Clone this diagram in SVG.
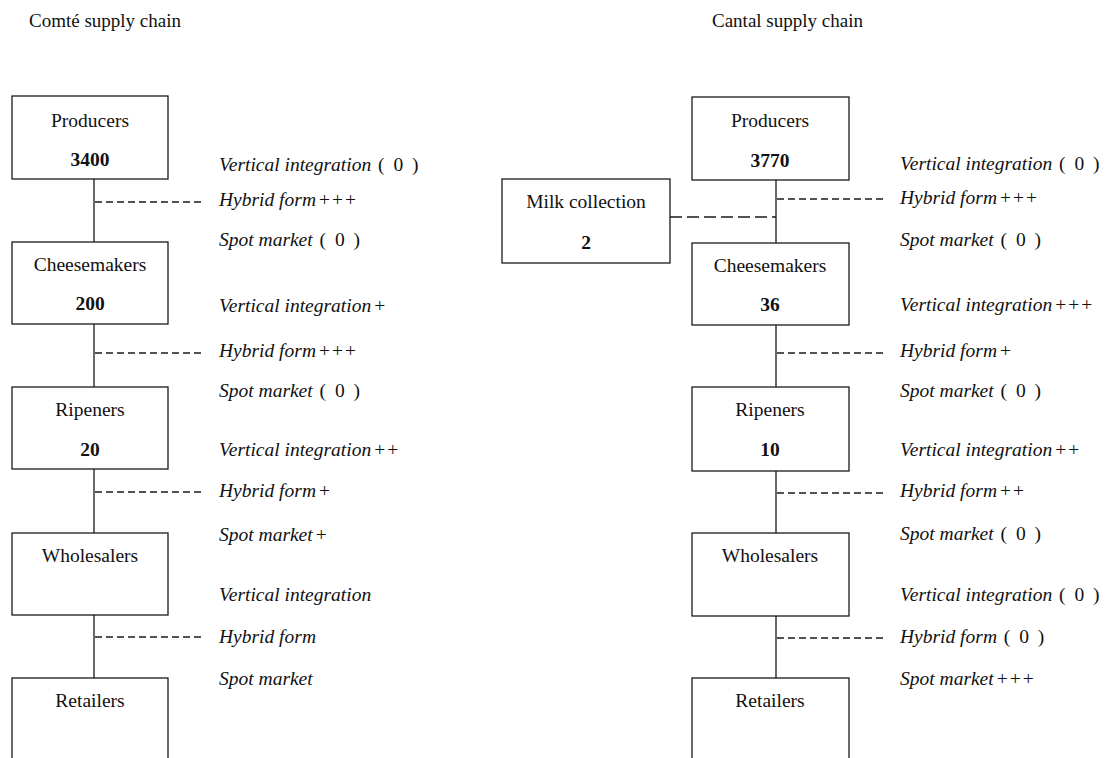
<svg xmlns="http://www.w3.org/2000/svg" width="1107" height="758" viewBox="0 0 1107 758">
<style>
.box{fill:#fff;stroke:#1a1a1a;stroke-width:1.3}
.t{font-family:"Liberation Serif","Times New Roman",serif;font-size:19.5px;fill:#111;text-anchor:middle}
.n{font-weight:bold}
.lbl{font-family:"Liberation Serif","Times New Roman",serif;font-size:19.5px;font-style:italic;fill:#111}
.up{font-style:normal;letter-spacing:2px}
.solid{stroke:#1a1a1a;stroke-width:1.3;fill:none}
.dash{stroke:#1a1a1a;stroke-width:1.3;stroke-dasharray:7 4;fill:none}
.dlong{stroke-dasharray:12 5}
.title{font-family:"Liberation Serif","Times New Roman",serif;font-size:19px;fill:#111}
</style>
<rect width="1107" height="758" fill="#fff"/>
<text class="title" x="29" y="27">Comté supply chain</text>
<text class="title" x="712" y="27">Cantal supply chain</text>

<g id="connectors">
  <line class="solid" x1="94" y1="179" x2="94" y2="242"/>
  <line class="solid" x1="94" y1="324" x2="94" y2="387"/>
  <line class="solid" x1="94" y1="469" x2="94" y2="533"/>
  <line class="solid" x1="94" y1="615" x2="94" y2="678"/>
  <line class="dash" x1="95" y1="202" x2="204" y2="202"/>
  <line class="dash" x1="95" y1="353" x2="204" y2="353"/>
  <line class="dash" x1="95" y1="492" x2="204" y2="492"/>
  <line class="dash" x1="95" y1="637" x2="204" y2="637"/>
  <line class="solid" x1="776" y1="180" x2="776" y2="243"/>
  <line class="solid" x1="776" y1="325" x2="776" y2="387"/>
  <line class="solid" x1="776" y1="471" x2="776" y2="533"/>
  <line class="solid" x1="776" y1="616" x2="776" y2="678"/>
  <line class="dash" x1="777" y1="199" x2="884" y2="199"/>
  <line class="dash dlong" x1="670" y1="217" x2="776" y2="217"/>
  <line class="dash" x1="777" y1="353" x2="884" y2="353"/>
  <line class="dash" x1="777" y1="493" x2="884" y2="493"/>
  <line class="dash" x1="777" y1="638" x2="884" y2="638"/>
</g>

<g id="comte-producers"><rect class="box" x="12" y="96" width="156" height="83"/><text class="t" x="90" y="127">Producers</text><text class="t n" x="90" y="166">3400</text></g>
<g id="comte-cheesemakers"><rect class="box" x="12" y="242" width="156" height="82"/><text class="t" x="90" y="271">Cheesemakers</text><text class="t n" x="90" y="310">200</text></g>
<g id="comte-ripeners"><rect class="box" x="12" y="387" width="156" height="82"/><text class="t" x="90" y="416">Ripeners</text><text class="t n" x="90" y="456">20</text></g>
<g id="comte-wholesalers"><rect class="box" x="12" y="533" width="156" height="82"/><text class="t" x="90" y="562">Wholesalers</text></g>
<g id="comte-retailers"><rect class="box" x="12" y="678" width="156" height="100"/><text class="t" x="90" y="707">Retailers</text></g>

<g id="comte-labels">
  <text class="lbl" x="219" y="171">Vertical integration<tspan class="up"> ( 0 )</tspan></text>
  <text class="lbl" x="219" y="206">Hybrid form<tspan class="up" dx="3">+++</tspan></text>
  <text class="lbl" x="219" y="246">Spot market<tspan class="up"> ( 0 )</tspan></text>
  <text class="lbl" x="219" y="312">Vertical integration<tspan class="up" dx="3">+</tspan></text>
  <text class="lbl" x="219" y="357">Hybrid form<tspan class="up" dx="3">+++</tspan></text>
  <text class="lbl" x="219" y="397">Spot market<tspan class="up"> ( 0 )</tspan></text>
  <text class="lbl" x="219" y="456">Vertical integration<tspan class="up" dx="3">++</tspan></text>
  <text class="lbl" x="219" y="497">Hybrid form<tspan class="up" dx="3">+</tspan></text>
  <text class="lbl" x="219" y="541">Spot market<tspan class="up" dx="3">+</tspan></text>
  <text class="lbl" x="219" y="601">Vertical integration</text>
  <text class="lbl" x="219" y="643">Hybrid form</text>
  <text class="lbl" x="219" y="685">Spot market</text>
</g>

<g id="cantal-producers"><rect class="box" x="692" y="97" width="157" height="83"/><text class="t" x="770" y="127">Producers</text><text class="t n" x="770" y="167">3770</text></g>
<g id="cantal-milk"><rect class="box" x="502" y="179" width="168" height="84"/><text class="t" x="586" y="208">Milk collection</text><text class="t n" x="586" y="249">2</text></g>
<g id="cantal-cheesemakers"><rect class="box" x="692" y="243" width="157" height="82"/><text class="t" x="770" y="272">Cheesemakers</text><text class="t n" x="770" y="311">36</text></g>
<g id="cantal-ripeners"><rect class="box" x="692" y="387" width="157" height="84"/><text class="t" x="770" y="416">Ripeners</text><text class="t n" x="770" y="456">10</text></g>
<g id="cantal-wholesalers"><rect class="box" x="692" y="533" width="157" height="83"/><text class="t" x="770" y="562">Wholesalers</text></g>
<g id="cantal-retailers"><rect class="box" x="692" y="678" width="157" height="100"/><text class="t" x="770" y="707">Retailers</text></g>

<g id="cantal-labels">
  <text class="lbl" x="900" y="170">Vertical integration<tspan class="up"> ( 0 )</tspan></text>
  <text class="lbl" x="900" y="204">Hybrid form<tspan class="up" dx="3">+++</tspan></text>
  <text class="lbl" x="900" y="246">Spot market<tspan class="up"> ( 0 )</tspan></text>
  <text class="lbl" x="900" y="311">Vertical integration<tspan class="up" dx="3">+++</tspan></text>
  <text class="lbl" x="900" y="357">Hybrid form<tspan class="up" dx="3">+</tspan></text>
  <text class="lbl" x="900" y="397">Spot market<tspan class="up"> ( 0 )</tspan></text>
  <text class="lbl" x="900" y="456">Vertical integration<tspan class="up" dx="3">++</tspan></text>
  <text class="lbl" x="900" y="497">Hybrid form<tspan class="up" dx="3">++</tspan></text>
  <text class="lbl" x="900" y="540">Spot market<tspan class="up"> ( 0 )</tspan></text>
  <text class="lbl" x="900" y="601">Vertical integration<tspan class="up"> ( 0 )</tspan></text>
  <text class="lbl" x="900" y="643">Hybrid form<tspan class="up"> ( 0 )</tspan></text>
  <text class="lbl" x="900" y="685">Spot market<tspan class="up" dx="3">+++</tspan></text>
</g>
</svg>
